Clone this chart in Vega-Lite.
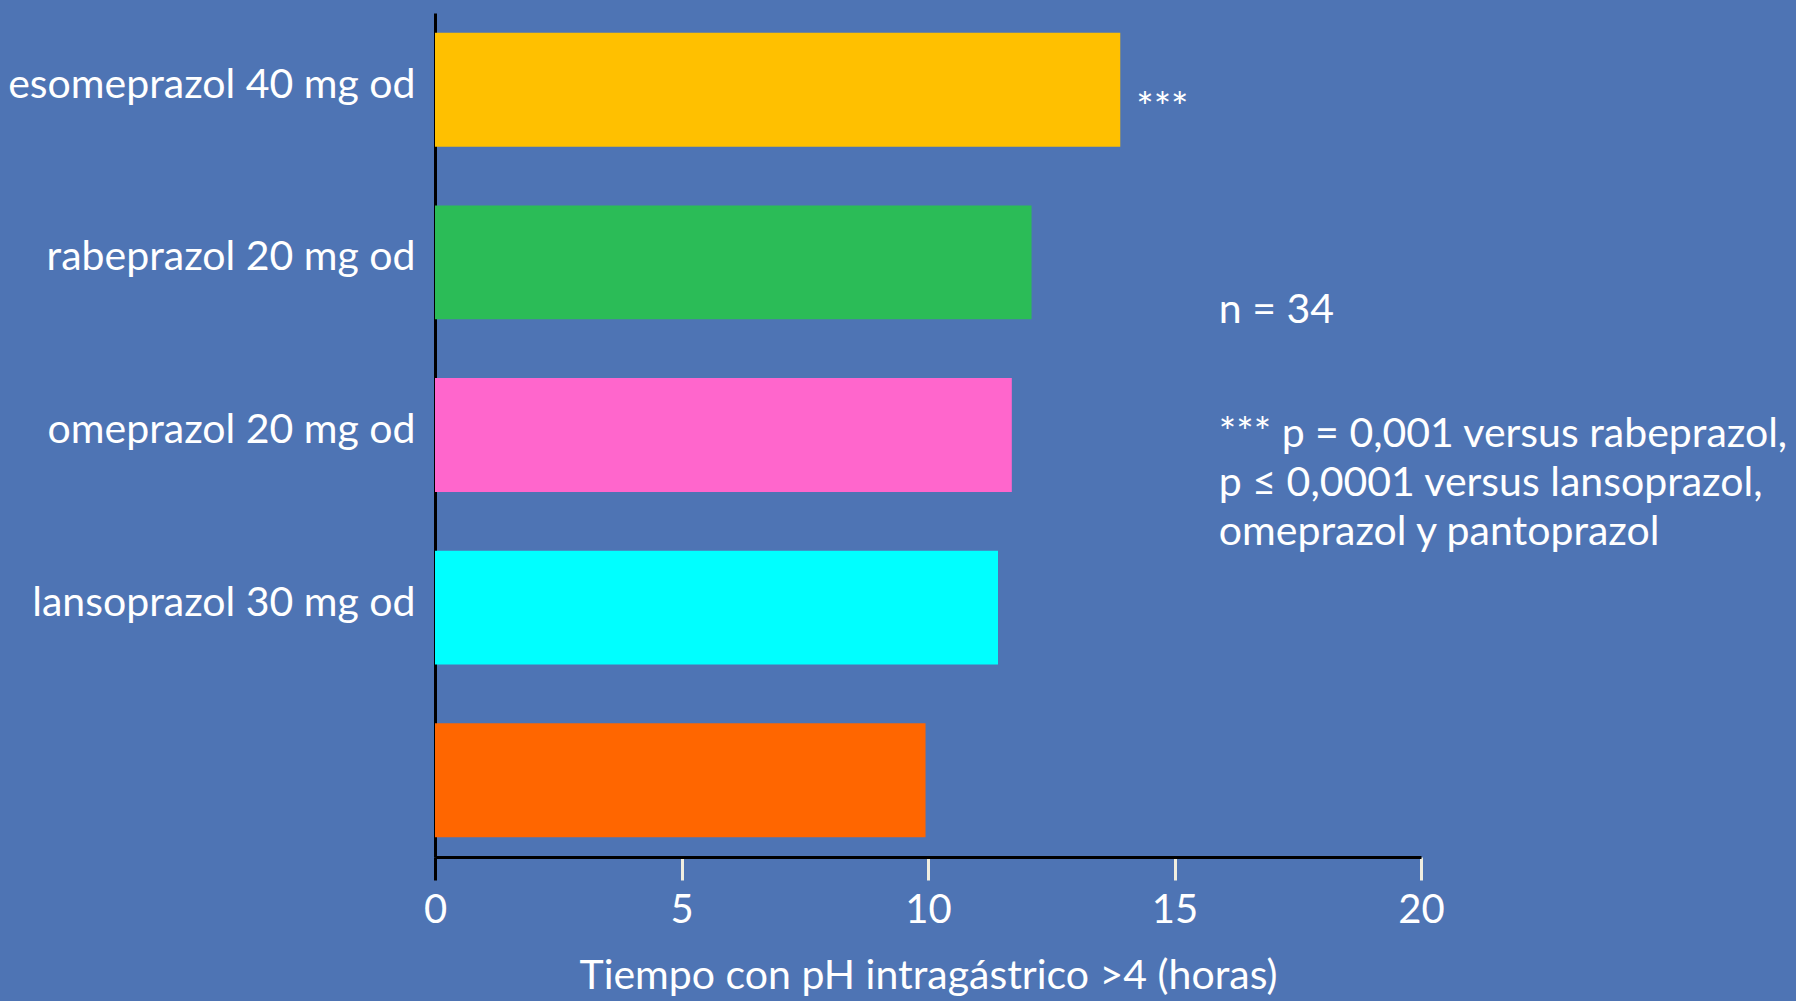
{
  "$schema": "https://vega.github.io/schema/vega-lite/v6.json",
  "autosize": {"type": "none"},
  "padding": {"left": 435, "top": 13, "right": 375, "bottom": 144},
  "width": 986,
  "height": 844,
  "background": "#4E74B4",
  "config": {
    "view": {"stroke": null},
    "font": "Lato",
    "text": {"font": "Lato", "color": "white", "fontSize": 41}
  },
  "datasets": {
    "barras": [
      {"farmaco": "esomeprazol 40 mg od", "horas": 13.9, "marca": "***"},
      {"farmaco": "rabeprazol 20 mg od", "horas": 12.1, "marca": ""},
      {"farmaco": "omeprazol 20 mg od", "horas": 11.7, "marca": ""},
      {"farmaco": "lansoprazol 30 mg od", "horas": 11.42, "marca": ""},
      {"farmaco": "pantoprazol", "horas": 9.95, "marca": ""}
    ],
    "notas": [
      {"farmaco": "rabeprazol 20 mg od", "horas": 15.9, "texto": "n = 34"}
    ],
    "significacion": [
      {"farmaco": "omeprazol 20 mg od", "horas": 15.9, "texto": "*** p = 0,001 versus rabeprazol,\np ≤ 0,0001 versus lansoprazol,\nomeprazol y pantoprazol"}
    ]
  },
  "encoding": {
    "y": {
      "field": "farmaco",
      "type": "nominal",
      "sort": ["esomeprazol 40 mg od", "rabeprazol 20 mg od", "omeprazol 20 mg od", "lansoprazol 30 mg od", "pantoprazol"],
      "scale": {"paddingInner": 0.34, "paddingOuter": 0.115},
      "axis": {
        "title": null,
        "ticks": false,
        "domainColor": "black",
        "domainWidth": 3,
        "labelColor": "white",
        "labelFont": "Lato",
        "labelFontSize": 41,
        "labelPadding": 20,
        "labelOffset": -4,
        "labelLimit": 500,
        "labelExpr": "datum.label == 'pantoprazol' ? '' : datum.label"
      }
    },
    "x": {
      "field": "horas",
      "type": "quantitative",
      "scale": {"domain": [0, 20], "nice": false},
      "axis": {
        "title": "Tiempo con pH intragástrico >4 (horas)",
        "values": [0, 5, 10, 15, 20],
        "grid": false,
        "domainColor": "black",
        "domainWidth": 3,
        "tickSize": 23,
        "tickWidth": 3,
        "tickColor": {"condition": {"test": "datum.value == 0", "value": "black"}, "value": "#F0EEE0"},
        "labelColor": "white",
        "labelFont": "Lato",
        "labelFontSize": 40,
        "labelFlush": false,
        "labelPadding": 10,
        "titleColor": "white",
        "titleFont": "Lato",
        "titleFontSize": 41,
        "titleFontWeight": "normal",
        "titlePadding": 26
      }
    }
  },
  "layer": [
    {
      "data": {"name": "barras"},
      "mark": {"type": "bar"},
      "encoding": {
        "color": {
          "field": "farmaco",
          "type": "nominal",
          "legend": null,
          "scale": {
            "domain": ["esomeprazol 40 mg od", "rabeprazol 20 mg od", "omeprazol 20 mg od", "lansoprazol 30 mg od", "pantoprazol"],
            "range": ["#FFC000", "#2BBC57", "#FF66CC", "#00FFFF", "#FF6600"]
          }
        }
      }
    },
    {
      "data": {"name": "barras"},
      "transform": [{"filter": "datum.marca != ''"}],
      "mark": {"type": "text", "align": "left", "baseline": "middle", "dx": 16, "dy": 20, "fontSize": 41},
      "encoding": {"text": {"field": "marca"}}
    },
    {
      "data": {"name": "notas"},
      "mark": {"type": "text", "align": "left", "baseline": "middle", "dy": 49, "fontSize": 41},
      "encoding": {"text": {"field": "texto"}}
    },
    {
      "data": {"name": "significacion"},
      "mark": {"type": "text", "align": "left", "baseline": "middle", "dy": 0, "lineHeight": 49, "lineBreak": "\n", "fontSize": 41},
      "encoding": {"text": {"field": "texto"}}
    }
  ]
}
